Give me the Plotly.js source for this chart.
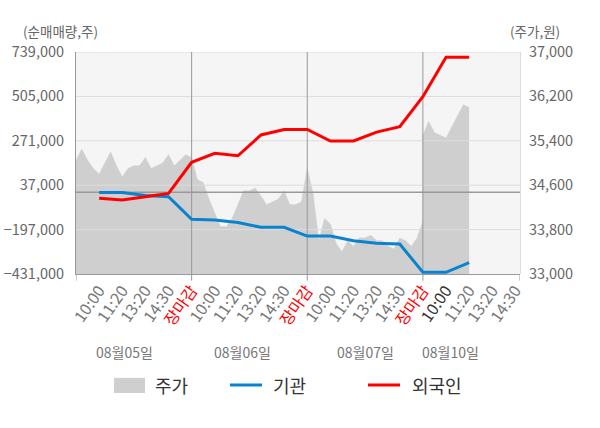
<!DOCTYPE html>
<html>
<head>
<meta charset="utf-8">
<script src="https://cdn.plot.ly/plotly-3.0.1.min.js"></script>
<style>
  body { margin: 0; background: #fff; }
  #chart { width: 600px; height: 428px; }
</style>
</head>
<body>
<div id="chart"></div>
<script>
// x-axis tick labels (5 slots per trading day, last day partial)
var tickLabels = ['10:00', '11:20', '13:20', '14:30', '장마감',
                  '10:00', '11:20', '13:20', '14:30', '장마감',
                  '10:00', '11:20', '13:20', '14:30', '장마감',
                  '10:00', '11:20', '13:20', '14:30'];
var dayLabels = ['08월05일', '08월06일', '08월07일', '08월10일'];
var dayLabelPos = [2.1, 7.2, 12.5, 16.2];
var closeSlots = [5, 10, 15];

// 순매매량 (주) — one value per tick slot
var inst = [-1000, -1000, -17000, -24000, -143000,
            -146000, -160000, -185000, -185000, -231000,
            -231000, -256000, -269000, -273000, -422000,
            -422000, -371000];
var foreign = [-32000, -41000, -24000, -6000, 158000,
               205000, 192000, 302000, 331000, 331000,
               270000, 270000, 317000, 345000, 503000,
               711000, 711000];

// 주가 (원) — sampled every quarter slot, per day
var price0805 = [35050, 35250, 35050, 34900, 34800, 35000, 35200, 34950, 34750, 34900,
                 34950, 34950, 35100, 34900, 34950, 35000, 35150, 34950, 35050, 35150];
var price0806 = [35100, 34700, 34650, 34350, 34100, 33850, 33850, 34000, 34250, 34500,
                 34500, 34550, 34400, 34250, 34300, 34350, 34500, 34250, 34250, 34300];
var price0807 = [34900, 34450, 33600, 34000, 33900, 33550, 33400, 33600, 33500, 33650,
                 33650, 33700, 33600, 33600, 33500, 33450, 33650, 33600, 33500, 33650, 33950];
var price0810 = [35500, 35750, 35550, 35500, 35450, 35650, 35850, 36050, 36000];

var leftTicks = [-431000, -197000, 37000, 271000, 505000, 739000];
var rightTicks = [33000, 33800, 34600, 35400, 36200, 37000];

var font = 'Noto Sans CJK KR, Noto Sans, sans-serif';
var xRange = [0, 19.2];

// build the price x/y from the day arrays
var priceX = [], priceY = [];
[price0805, price0806, price0807, price0810].forEach(function(arr, d) {
  for (var i = 0; i < arr.length; i++) {
    priceX.push(d * 5 + i * 0.25);
    priceY.push(arr[i]);
  }
});

var slotX = [];
for (var i = 0; i < tickLabels.length; i++) slotX.push(i + 1);

var tickText = tickLabels.map(function(t, i) {
  if (t === '장마감') return '<span style="color:#ff0000">' + t + '</span>';
  if (i === 15) return '<span style="color:#333">' + t + '</span>';
  return t;
});

// price on subplot xy (drawn first), net volume on subplot x2y2 (drawn on top)
var data = [
  {
    x: priceX, y: priceY, xaxis: 'x', yaxis: 'y', name: '주가',
    type: 'scatter', mode: 'lines', fill: 'tozeroy',
    fillcolor: '#cfcfcf', line: { color: '#cfcfcf', width: 0.5 },
    hoverinfo: 'skip'
  },
  {
    x: slotX.slice(0, inst.length), y: inst, xaxis: 'x2', yaxis: 'y2', name: '기관',
    type: 'scatter', mode: 'lines', line: { color: '#0a83cf', width: 3 }
  },
  {
    x: slotX.slice(0, foreign.length), y: foreign, xaxis: 'x2', yaxis: 'y2', name: '외국인',
    type: 'scatter', mode: 'lines', line: { color: '#ff0000', width: 3 }
  }
];

var shapes = [];
// plot background (both subplots are transparent)
shapes.push({ type: 'rect', xref: 'paper', yref: 'paper', x0: 0, x1: 1, y0: 0, y1: 1,
              fillcolor: '#f5f5f5', line: { width: 0 }, layer: 'below' });
// grid lines live in the upper subplot: above the price area, below the lines
leftTicks.slice(1).forEach(function(v) {
  shapes.push({ type: 'line', xref: 'x2', yref: 'y2', x0: xRange[0], x1: xRange[1], y0: v, y1: v,
                line: { color: '#dcdcdc', width: 1 }, layer: 'below' });
});
shapes.push({ type: 'line', xref: 'x2', yref: 'y2', x0: xRange[0], x1: xRange[1], y0: 0, y1: 0,
              line: { color: '#999', width: 1.5 }, layer: 'below' });
closeSlots.forEach(function(s) {
  shapes.push({ type: 'line', xref: 'x2', yref: 'y2', x0: s, x1: s, y0: -431000, y1: 739000,
                line: { color: '#999', width: 1 }, layer: 'below' });
});
// small ticks under the axis
[0, 5, 10, 15, 19.2].forEach(function(s) {
  shapes.push({ type: 'line', xref: 'x2', yref: 'paper', x0: s, x1: s, y0: -0.03, y1: 0,
                line: { color: '#999', width: 1 } });
});
// legend symbols
shapes.push({ type: 'rect', xref: 'paper', yref: 'paper', x0: 0.0856, x1: 0.1554, y0: -0.536, y1: -0.468,
              fillcolor: '#cfcfcf', line: { width: 0 } });
shapes.push({ type: 'line', xref: 'paper', yref: 'paper', x0: 0.3468, x1: 0.4189, y0: -0.5, y1: -0.5,
              line: { color: '#0a83cf', width: 3 } });
shapes.push({ type: 'line', xref: 'paper', yref: 'paper', x0: 0.6577, x1: 0.7297, y0: -0.5, y1: -0.5,
              line: { color: '#ff0000', width: 3 } });

function note(text, x, y, xanchor, size, color, xref) {
  return { text: text, xref: xref || 'paper', yref: 'paper', x: x, y: y,
           xanchor: xanchor, yanchor: 'middle', showarrow: false,
           font: { size: size, color: color, family: font } };
}
var annotations = [
  note('(순매매량,주)', -0.034, 1.095, 'center', 13.5, '#666'),
  note('(주가,원)', 1.034, 1.095, 'center', 13.5, '#666'),
  note('주가', 0.1734, -0.5, 'left', 18, '#333'),
  note('기관', 0.4392, -0.5, 'left', 18, '#333'),
  note('외국인', 0.7523, -0.5, 'left', 18, '#333')
];
dayLabels.forEach(function(t, i) {
  annotations.push(note(t, dayLabelPos[i], -0.351, 'center', 14, '#777', 'x2'));
});

var layout = {
  width: 600, height: 428,
  margin: { l: 76, r: 80, t: 52, b: 154 },
  paper_bgcolor: '#fff', plot_bgcolor: 'rgba(0,0,0,0)',
  showlegend: false,
  font: { family: font, color: '#666' },
  xaxis: {
    range: xRange, anchor: 'y', showticklabels: false,
    showgrid: false, zeroline: false, showline: false, ticks: ''
  },
  yaxis: {
    range: [33000, 37000], tickvals: rightTicks, tickformat: ',d', anchor: 'x',
    side: 'right', showgrid: false, zeroline: false,
    showline: true, linecolor: '#dcdcdc', ticks: '', ticklabelstandoff: 5,
    tickfont: { size: 14.5, color: '#666', family: font }
  },
  xaxis2: {
    range: xRange, anchor: 'y2', tickvals: slotX, ticktext: tickText, tickangle: -55,
    showgrid: false, zeroline: false, showline: true, linecolor: '#999', linewidth: 1,
    ticks: '', tickfont: { size: 16, color: '#777', family: font }
  },
  yaxis2: {
    range: [-431000, 739000], tickvals: leftTicks, tickformat: ',d', anchor: 'x2',
    side: 'left', showgrid: false, zeroline: false,
    showline: true, linecolor: '#999', linewidth: 1,
    ticks: '', ticklabelstandoff: 8, tickfont: { size: 14.5, color: '#666', family: font }
  },
  shapes: shapes,
  annotations: annotations
};

Plotly.newPlot('chart', data, layout, { displayModeBar: false, staticPlot: true });
</script>
</body>
</html>
